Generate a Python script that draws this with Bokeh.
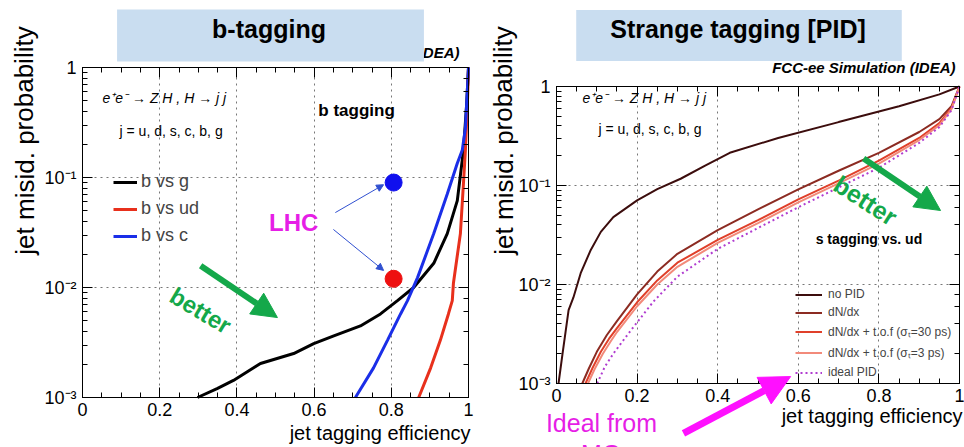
from bokeh.plotting import figure
from bokeh.models import (Range1d, LinearAxis, LogAxis, LogTicker, SingleIntervalTicker, Grid,
                          Label, Legend, LegendItem, Arrow, NormalHead, CustomJSTickFormatter)
from bokeh.layouts import row
from bokeh.embed import file_html
from bokeh.resources import INLINE

FONT = "Liberation Sans"

# ---------------- data ----------------
x_tick_labels = ["0", "0.2", "0.4", "0.6", "0.8", "1"]
y_tick_labels = ["10⁻³", "10⁻²", "10⁻¹", "1"]
grid_x = [0.2, 0.4, 0.6, 0.8]
grid_y = [0.01, 0.1]

# b-tagging panel
b_vs_g_x = [0.298, 0.35, 0.391, 0.461, 0.547, 0.599, 0.651, 0.72, 0.772, 0.816, 0.858, 0.91, 0.945, 0.971, 0.987, 0.995, 1.0]
b_vs_g_y = [0.001, 0.00121, 0.00143, 0.00204, 0.00251, 0.00309, 0.00363, 0.00447, 0.00575, 0.00759, 0.0100, 0.0166, 0.0309, 0.0617, 0.178, 0.45, 1.0]
b_vs_ud_x = [0.871, 0.902, 0.927, 0.948, 0.958, 0.961, 0.979, 0.987, 0.992, 0.997, 1.0]
b_vs_ud_y = [0.001, 0.00186, 0.00331, 0.00575, 0.00759, 0.011, 0.0309, 0.0891, 0.178, 0.45, 1.0]
b_vs_c_x = [0.707, 0.754, 0.79, 0.824, 0.842, 0.868, 0.91, 0.945, 0.971, 0.984, 0.992, 1.0]
b_vs_c_y = [0.001, 0.00186, 0.00331, 0.00575, 0.00759, 0.0123, 0.0309, 0.0708, 0.135, 0.178, 0.282, 1.0]
lhc_x = [0.806, 0.806]
lhc_y = [0.09, 0.012]
lhc_colors = ["#1010ee", "#ee1010"]

# strange tagging panel
nopid_x = [0.005, 0.015, 0.03, 0.042, 0.06, 0.084, 0.11, 0.141, 0.2, 0.25, 0.308, 0.37, 0.43, 0.55, 0.7, 0.85, 0.95, 1.0]
nopid_y = [0.001, 0.0020, 0.0055, 0.0074, 0.0130, 0.0219, 0.0340, 0.048, 0.0708, 0.092, 0.117, 0.160, 0.214, 0.302, 0.437, 0.631, 0.832, 1.0]
dndx_x = [0.064, 0.08, 0.1, 0.125, 0.15, 0.2, 0.25, 0.3, 0.4, 0.5, 0.6, 0.7, 0.8, 0.9, 0.95, 0.98, 1.0]
dndx_y = [0.001, 0.00141, 0.00209, 0.00309, 0.00427, 0.00794, 0.0135, 0.0204, 0.0355, 0.0575, 0.0912, 0.141, 0.214, 0.347, 0.468, 0.631, 1.0]
tof30_x = [0.072, 0.09, 0.11, 0.13, 0.15, 0.2, 0.25, 0.3, 0.4, 0.5, 0.6, 0.7, 0.8, 0.9, 0.95, 0.98, 1.0]
tof30_y = [0.001, 0.00145, 0.00209, 0.00282, 0.00363, 0.00661, 0.0110, 0.0166, 0.0282, 0.0447, 0.0724, 0.112, 0.178, 0.302, 0.427, 0.603, 1.0]
tof3_x = [0.078, 0.095, 0.115, 0.135, 0.15, 0.2, 0.25, 0.3, 0.4, 0.5, 0.6, 0.7, 0.8, 0.9, 0.95, 0.98, 1.0]
tof3_y = [0.001, 0.00141, 0.00200, 0.00269, 0.00331, 0.00603, 0.0100, 0.0151, 0.0263, 0.0417, 0.0676, 0.105, 0.166, 0.288, 0.407, 0.589, 1.0]
ideal_x = [0.101, 0.12, 0.141, 0.17, 0.191, 0.241, 0.3, 0.4, 0.5, 0.6, 0.7, 0.8, 0.9, 0.95, 0.98, 1.0]
ideal_y = [0.001, 0.00148, 0.00200, 0.00288, 0.00372, 0.00676, 0.0120, 0.0229, 0.0372, 0.0603, 0.0955, 0.151, 0.269, 0.389, 0.575, 1.0]

GREEN = "#14a84a"
MAGENTA = "#e61ee6"
BOXBLUE = "#c9ddf0"
H = 447


def base_fig(width, frame_left, frame_right, frame_top, frame_bottom):
    # the canvas is the frame; the [0,1] x [1e-3,1] box sits at the given pixels
    xs = -frame_left / (frame_right - frame_left)
    xe = (width - frame_left) / (frame_right - frame_left)
    dec = (frame_bottom - frame_top) / 3.0
    ys = 10 ** (-3 - (H - frame_bottom) / dec)
    ye = 10 ** (frame_top / dec)
    p = figure(width=width, height=H, x_range=Range1d(xs, xe), y_range=Range1d(ys, ye),
               y_axis_type="log", output_backend="svg", toolbar_location=None,
               min_border_left=0, min_border_right=0, min_border_top=0, min_border_bottom=0,
               background_fill_color="white", border_fill_color="white", title_location=None)
    p.outline_line_color = None
    xt = SingleIntervalTicker(interval=0.2, num_minor_ticks=4)
    bx = p.xaxis[0]
    ly = p.yaxis[0]
    bx.ticker = xt
    bx.formatter = CustomJSTickFormatter(args=dict(labels=x_tick_labels),
                                         code="return labels[Math.round(tick*5)];")
    ly.formatter = CustomJSTickFormatter(args=dict(labels=y_tick_labels),
                                         code="return labels[Math.round(Math.log10(tick))+3];")
    top_ax = LinearAxis(ticker=SingleIntervalTicker(interval=0.2, num_minor_ticks=4),
                        formatter=CustomJSTickFormatter(code="return '';"))
    right_ax = LogAxis(ticker=LogTicker(), formatter=CustomJSTickFormatter(code="return '';"))
    bx.fixed_location = 1e-3
    top_ax.fixed_location = 1.0
    ly.fixed_location = 0.0
    right_ax.fixed_location = 1.0
    for ax in (bx, top_ax):
        ax.bounds = (0, 1)
    for ax in (ly, right_ax):
        ax.bounds = (1e-3, 1)
    for ax in (bx, ly, top_ax, right_ax):
        ax.major_tick_in = 10
        ax.major_tick_out = 0
        ax.minor_tick_in = 5
        ax.minor_tick_out = 0
        ax.axis_line_color = "black"
        ax.axis_line_width = 1
        ax.major_tick_line_color = "black"
        ax.major_tick_line_width = 1
        ax.minor_tick_line_color = "black"
        ax.minor_tick_line_width = 1
        ax.major_label_text_font = FONT
        ax.major_label_text_font_size = "18px"
        ax.major_label_text_color = "black"
    bx.major_label_standoff = 5
    ly.major_label_standoff = 6
    p.add_layout(top_ax, "above")
    p.add_layout(right_ax, "right")

    xg, yg = p.xgrid[0], p.ygrid[0]
    if "cross_bounds" in Grid.properties():
        xg.ticker = xt
        xg.bounds = (0, 1)
        xg.cross_bounds = (1e-3, 1)
        yg.bounds = (1e-3, 1)
        yg.cross_bounds = (0, 1)
        for g in (xg, yg):
            g.grid_line_dash = "dotted"
            g.grid_line_color = "#777777"
            g.grid_line_alpha = 1
    else:
        xg.visible = False
        yg.visible = False
        p.segment(x0=grid_x, x1=grid_x, y0=[1e-3] * len(grid_x), y1=[1.0] * len(grid_x),
                  line_color="#777777", line_dash="dotted", level="underlay")
        p.segment(x0=[0.0] * len(grid_y), x1=[1.0] * len(grid_y), y0=grid_y, y1=grid_y,
                  line_color="#777777", line_dash="dotted", level="underlay")
    return p


def lab(p, text, x, y, units="data", size="14px", style="normal", color="black",
        align="left", baseline="middle", angle=0, **kw):
    l = Label(x=x, y=y, x_units=units, y_units=units, text=text, text_font=FONT,
              text_font_size=size, text_font_style=style, text_color=color,
              text_align=align, text_baseline=baseline, angle=angle, **kw)
    p.add_layout(l)
    return l


# ---------------- left panel ----------------
pl = base_fig(482, 82, 468, 67, 397)

r_g = pl.line(b_vs_g_x, b_vs_g_y, line_color="black", line_width=3)
r_ud = pl.line(b_vs_ud_x, b_vs_ud_y, line_color="#e8301c", line_width=3)
r_c = pl.line(b_vs_c_x, b_vs_c_y, line_color="#1a2ee8", line_width=3)
pl.scatter(lhc_x, lhc_y, size=17, color=lhc_colors)

leg_l = Legend(items=[LegendItem(label="b vs g", renderers=[r_g]),
                      LegendItem(label="b vs ud", renderers=[r_ud]),
                      LegendItem(label="b vs c", renderers=[r_c])],
               location=(113, 201), background_fill_alpha=0, border_line_alpha=0,
               padding=0, margin=0, spacing=6, glyph_width=24, glyph_height=20,
               label_height=20, label_standoff=4, label_text_font=FONT,
               label_text_font_size="18px")
pl.add_layout(leg_l)

lab(pl, "e⁺e⁻ → Z H , H → j j", 0.052, 0.533, size="14px", style="italic")
lab(pl, "j = u, d, s, c, b, g", 0.096, 0.267, size="14px")
lab(pl, "b tagging", 0.611, 0.406, size="17px", style="bold")
lab(pl, "LHC", 0.547, 0.039, size="24px", style="bold", color=MAGENTA, align="center")
lab(pl, "better", 0.306, 0.00618, size="24px", style="bold", color=GREEN, align="center", angle=-0.54)

pl.add_layout(Arrow(end=NormalHead(size=7, fill_color="#3050d0", line_color="#3050d0"),
                    x_start=0.655, y_start=0.048, x_end=0.78, y_end=0.086,
                    line_color="#3050d0", line_width=1))
pl.add_layout(Arrow(end=NormalHead(size=7, fill_color="#3050d0", line_color="#3050d0"),
                    x_start=0.65, y_start=0.0337, x_end=0.78, y_end=0.0143,
                    line_color="#3050d0", line_width=1))
pl.add_layout(Arrow(end=NormalHead(size=25, fill_color=GREEN, line_color=GREEN),
                    x_start=0.306, y_start=0.0158, x_end=0.505, y_end=0.00533,
                    line_color=GREEN, line_width=6))

# texts placed in canvas pixels (y measured up from the bottom)
lab(pl, "FCC-ee Simulation (IDEA)", 459, H - 52, units="screen", size="15px",
    style="bold italic", align="right")
lab(pl, "b-tagging", 270, H - 35, units="screen", size="25px", style="bold",
    align="center", background_fill_color=BOXBLUE, background_fill_alpha=1,
    padding=dict(left=95, right=98, top=5, bottom=19))
lab(pl, "jet misid. probability", 24, H - 140, units="screen", size="26px",
    align="center", angle=1.5708)
lab(pl, "jet tagging efficiency", 470, H - 432, units="screen", size="20px",
    align="right")

# ---------------- right panel ----------------
OX = 482
pr = base_fig(482, 556 - OX, 959 - OX, 86, 383)

r_np = pr.line(nopid_x, nopid_y, line_color="#3c0d0d", line_width=2)
r_dn = pr.line(dndx_x, dndx_y, line_color="#8c2b22", line_width=2)
r_30 = pr.line(tof30_x, tof30_y, line_color="#e0402a", line_width=2)
r_3 = pr.line(tof3_x, tof3_y, line_color="#f28a7a", line_width=2)
r_id = pr.line(ideal_x, ideal_y, line_color="#b03cd0", line_width=2, line_dash="2 3")

leg_r = Legend(items=[LegendItem(label="no PID", renderers=[r_np]),
                      LegendItem(label="dN/dx", renderers=[r_dn]),
                      LegendItem(label="dN/dx + t.o.f (σₜ=30 ps)", renderers=[r_30]),
                      LegendItem(label="dN/dx + t.o.f (σₜ=3 ps)", renderers=[r_3]),
                      LegendItem(label="ideal PID", renderers=[r_id])],
               location=(795 - OX, H - 379), background_fill_alpha=0, border_line_alpha=0,
               padding=0, margin=0, spacing=4, glyph_width=27, glyph_height=13,
               label_height=13, label_standoff=6, label_text_font=FONT,
               label_text_font_size="12px")
pr.add_layout(leg_r)

lab(pr, "e⁺e⁻ → Z H , H → j j", 0.0645, 0.774, size="14px", style="italic")
lab(pr, "j = u, d, s, c, b, g", 0.104, 0.368, size="14px")
lab(pr, "s tagging vs. ud", 0.643, 0.0285, size="14px", style="bold")
lab(pr, "better", 0.767, 0.0705, size="25px", style="bold", color=GREEN, align="center", angle=-0.57)
pr.add_layout(Arrow(end=NormalHead(size=25, fill_color=GREEN, line_color=GREEN),
                    x_start=0.762, y_start=0.1875, x_end=0.953, y_end=0.0559,
                    line_color=GREEN, line_width=6))
pr.add_layout(Arrow(end=NormalHead(size=30, fill_color="#ff10ff", line_color="#ff10ff"),
                    x_start=0.315, y_start=0.000313, x_end=0.581, y_end=0.001175,
                    line_color="#ff10ff", line_width=7))

lab(pr, "Strange tagging [PID]", 738.5 - OX, H - 35, units="screen", size="25px", style="bold",
    align="center", background_fill_color=BOXBLUE, background_fill_alpha=1,
    padding=dict(left=34, right=36, top=5, bottom=18))
lab(pr, "FCC-ee Simulation (IDEA)", 955 - OX, H - 67, units="screen", size="15px",
    style="bold italic", align="right")
lab(pr, "jet misid. probability", 503 - OX, H - 140, units="screen", size="26px",
    align="center", angle=1.5708)
lab(pr, "jet tagging efficiency", 962 - OX, H - 415, units="screen", size="20px",
    align="right")
lab(pr, "Ideal from", 601 - OX, H - 422, units="screen", size="25px", color=MAGENTA,
    align="center")
lab(pr, "MC", 600 - OX, H - 453, units="screen", size="25px", color=MAGENTA,
    align="center")

layout = row(pl, pr, spacing=0)
open("out.html", "w").write(file_html(layout, INLINE))
